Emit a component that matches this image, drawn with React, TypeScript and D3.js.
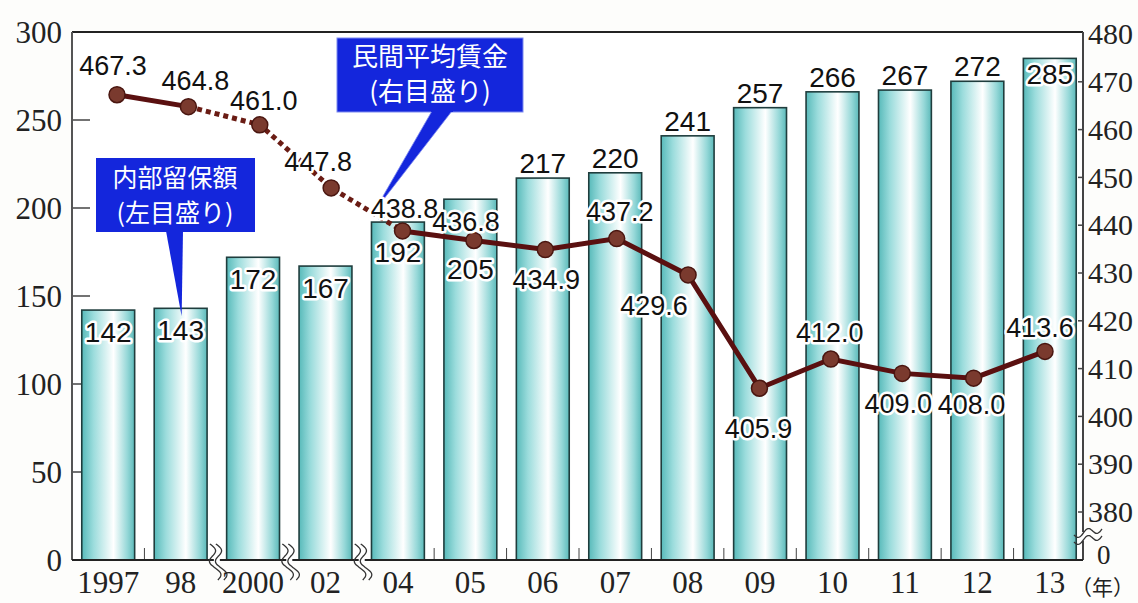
import React from 'react';
import * as d3 from 'd3';

// ---- data ----
const years = ['1997', '98', '2000', '02', '04', '05', '06', '07', '08', '09', '10', '11', '12', '13'];
const retained = [142, 143, 172, 167, 192, 205, 217, 220, 241, 257, 266, 267, 272, 285];
const wages = [467.3, 464.8, 461.0, 447.8, 438.8, 436.8, 434.9, 437.2, 429.6, 405.9, 412.0, 409.0, 408.0, 413.6];
const leftTicks = [0, 50, 100, 150, 200, 250, 300];
const rightTicks = [380, 390, 400, 410, 420, 430, 440, 450, 460, 470, 480];
const breakAfterIdx = [1, 2, 3]; // axis breaks between these years and the next
const dashedFrom = 1;
const dashedTo = 4;
const retainedTitle = ['内部留保額', '(左目盛り)'];
const wageTitle = ['民間平均賃金', '(右目盛り)'];
const yearUnit = '（年）';

// ---- layout (label placements) ----
const barLabelDy = [22, 22, 22, 22, 30, 70, -15, -15, -15, -15, -15, -15, -15, 16];
const lineLabelOff: [number, number][] = [
  [-4, -29], [7, -26], [4, -25], [-13, -27], [2, -23], [-8, -19], [1, 30],
  [3, -27], [-34, 30], [-1, 40], [-1, -27], [-4, 30], [-2, 26], [-5, -24],
];

const W = 1138, H = 603;
const X0 = 72, X1 = 1083, Y0 = 32, Y1 = 560;

const SERIF = '"Liberation Serif", "Times New Roman", serif';
const SANS = '"Liberation Sans", Arial, sans-serif';
const CJK = '"Noto Sans CJK JP", "Noto Sans CJK SC", sans-serif';

export default function App() {
  const yL = d3.scaleLinear().domain([0, 300]).range([Y1, Y0]);
  const yR = d3.scaleLinear().domain([380, 480]).range([512, 34]);
  const xB = d3.scaleBand<string>().domain(years).range([72, 1086]).paddingInner(0.27).paddingOuter(0.135);
  const xP = d3.scalePoint<string>().domain(years).range([117, 1045]);
  const bw = xB.bandwidth();

  const pts: [number, number][] = years.map((y, i) => [xP(y)!, yR(wages[i])]);
  const line = d3.line<[number, number]>().x(d => d[0]).y(d => d[1]);
  const solidA = pts.slice(0, dashedFrom + 1);
  const dashed = pts.slice(dashedFrom, dashedTo + 1);
  const solidB = pts.slice(dashedTo);

  const waveV = (cx: number, off: number) => {
    const p: [number, number][] = d3.range(0, 1.0001, 0.05).map(t => [
      cx + off + (t - 0.5) * 8 + 4.5 * Math.sin(t * Math.PI * 3),
      544 + t * 36,
    ]);
    return d3.line().curve(d3.curveBasis)(p as any)!;
  };
  const waveH = (cy: number) => {
    const p: [number, number][] = d3.range(0, 1.0001, 0.05).map(t => [
      1074 + t * 28,
      cy - t * 6 + 3.5 * Math.sin(t * Math.PI * 3),
    ]);
    return d3.line().curve(d3.curveBasis)(p as any)!;
  };

  const breaksX = breakAfterIdx.map(i => {
    const a = xB(years[i])! + bw;
    const b = xB(years[i + 1])!;
    return (a + b) / 2;
  });
  const tickGaps = d3.range(years.length - 1).filter(i => !breakAfterIdx.includes(i)).map(i => {
    const a = xB(years[i])! + bw;
    const b = xB(years[i + 1])!;
    return (a + b) / 2;
  });

  const tip1: [number, number] = [xB(years[1])! + bw / 2 + 1, yL(retained[1]) + 8];
  const tip2: [number, number] = [
    pts[3][0] + (pts[4][0] - pts[3][0]) * 0.6,
    pts[3][1] + (pts[4][1] - pts[3][1]) * 0.6 - 2,
  ];

  const halo = { stroke: '#fff', strokeWidth: 5, paintOrder: 'stroke' as const, strokeLinejoin: 'round' as const };

  return (
    <svg width={W} height={H} style={{ position: 'absolute', left: 0, top: 0, background: '#fdfdfb' }}>
      <defs>
        <linearGradient id="barG" x1="0" x2="1" y1="0" y2="0">
          <stop offset="0%" stopColor="#58baba" />
          <stop offset="22%" stopColor="#9bdcdc" />
          <stop offset="60%" stopColor="#ffffff" />
          <stop offset="86%" stopColor="#96d8d8" />
          <stop offset="100%" stopColor="#5cbaba" />
        </linearGradient>
      </defs>
      <rect x={X0} y={Y0} width={X1 - X0} height={Y1 - Y0} fill="#ffffff" />

      {leftTicks.filter(t => t > 0 && t < 300).map(t => (
        <line key={'lt' + t} x1={X0} x2={X0 + 18} y1={yL(t)} y2={yL(t)} stroke="#444" strokeWidth={1.5} />
      ))}
      {rightTicks.filter(t => t < 480).map(t => (
        <line key={'rt' + t} x1={X1 - 5} x2={X1} y1={yR(t)} y2={yR(t)} stroke="#444" strokeWidth={1.5} />
      ))}

      {years.map((y, i) => (
        <rect key={'b' + y} x={xB(y)!} y={yL(retained[i])} width={bw} height={Y1 - yL(retained[i])}
          fill="url(#barG)" stroke="#1f3d3d" strokeWidth={1.6} />
      ))}

      {tickGaps.map((x, i) => (
        <line key={'xt' + i} x1={x} x2={x} y1={Y1} y2={Y1 - 12} stroke="#444" strokeWidth={1} />
      ))}

      <line x1={X0} x2={X1} y1={Y0} y2={Y0} stroke="#222" strokeWidth={2} />
      <line x1={X0} x2={X0} y1={Y0} y2={Y1} stroke="#555" strokeWidth={2} />
      <line x1={X1} x2={X1} y1={Y0} y2={Y1} stroke="#444" strokeWidth={2} />
      <line x1={X0} x2={X1} y1={Y1} y2={Y1} stroke="#222" strokeWidth={2} />

      {years.map((y, i) => (
        <text key={'bl' + y} x={xB(y)! + bw / 2} y={yL(retained[i]) + barLabelDy[i]} dy="0.36em"
          textAnchor="middle" fontFamily={SANS} fontSize={28} fill="#111" {...halo}>
          {retained[i]}
        </text>
      ))}

      <g>
        <rect x={96} y={158} width={159} height={74} fill="#1426dc" />
        <polygon points={`166,231 183,231 ${tip1[0]},${tip1[1]}`} fill="#1426dc" />
        <text x={175} y={178} textAnchor="middle" dy="0.36em" fontFamily={CJK} fontSize={25} fill="#fff">{retainedTitle[0]}</text>
        <text x={175} y={213} textAnchor="middle" dy="0.36em" fontFamily={CJK} fontSize={25} fill="#fff">{retainedTitle[1]}</text>
      </g>

      <path d={line(solidA)!} fill="none" stroke="#5a1010" strokeWidth={5} />
      <path d={line(dashed)!} fill="none" stroke="#6a1c14" strokeWidth={5} strokeDasharray="5 4" />
      <path d={line(solidB)!} fill="none" stroke="#5a1010" strokeWidth={5} />

      <g>
        <rect x={337} y={38} width={186} height={74} fill="#1426dc" stroke="#7d8af0" strokeWidth={1} />
        <polygon points={`432,111 452,111 ${tip2[0]},${tip2[1]}`} fill="#1426dc" stroke="#7d8af0" strokeWidth={0.8} />
        <rect x={431} y={109} width={22} height={3} fill="#1426dc" />
        <text x={430} y={57} textAnchor="middle" dy="0.36em" fontFamily={CJK} fontSize={26} fill="#fff">{wageTitle[0]}</text>
        <text x={430} y={92} textAnchor="middle" dy="0.36em" fontFamily={CJK} fontSize={26} fill="#fff">{wageTitle[1]}</text>
      </g>

      {pts.map((p, i) => (
        <circle key={'d' + i} cx={p[0]} cy={p[1]} r={8} fill="#7a3a2e" stroke="#4a1610" strokeWidth={1.5} />
      ))}

      {pts.map((p, i) => (
        <text key={'ll' + i} x={p[0] + lineLabelOff[i][0]} y={p[1] + lineLabelOff[i][1]} dy="0.36em"
          textAnchor="middle" fontFamily={SANS} fontSize={27} fill="#111" {...halo}>
          {wages[i].toFixed(1)}
        </text>
      ))}

      {breaksX.map((x, i) => (
        <g key={'br' + i}>
          <rect x={x - 3} y={Y1 - 10} width={6} height={16} fill="#fff" />
          <path d={waveV(x, -3)} fill="none" stroke="#333" strokeWidth={1.3} />
          <path d={waveV(x, 3)} fill="none" stroke="#333" strokeWidth={1.3} />
        </g>
      ))}

      <rect x={X1 - 3} y={532} width={8} height={9} fill="#fff" />
      <path d={waveH(535)} fill="none" stroke="#333" strokeWidth={1.3} />
      <path d={waveH(542)} fill="none" stroke="#333" strokeWidth={1.3} />

      {leftTicks.map(t => (
        <text key={'ll' + t} x={62} y={yL(t)} dy="0.34em" textAnchor="end" fontFamily={SERIF} fontSize={31} fill="#222">{t}</text>
      ))}
      {rightTicks.map(t => (
        <text key={'rl' + t} x={1088} y={yR(t)} dy="0.34em" textAnchor="start" fontFamily={SERIF} fontSize={30} fill="#222">{t}</text>
      ))}
      <text x={1097} y={555} dy="0.34em" textAnchor="start" fontFamily={SERIF} fontSize={27} fill="#222">0</text>

      {years.map(y => (
        <text key={'x' + y} x={xB(y)! + bw / 2} y={582} dy="0.34em" textAnchor="middle" fontFamily={SERIF} fontSize={31} fill="#222">{y}</text>
      ))}
      <text x={1071} y={587} dy="0.36em" fontFamily={CJK} fontSize={21} fill="#222">{yearUnit}</text>
    </svg>
  );
}
